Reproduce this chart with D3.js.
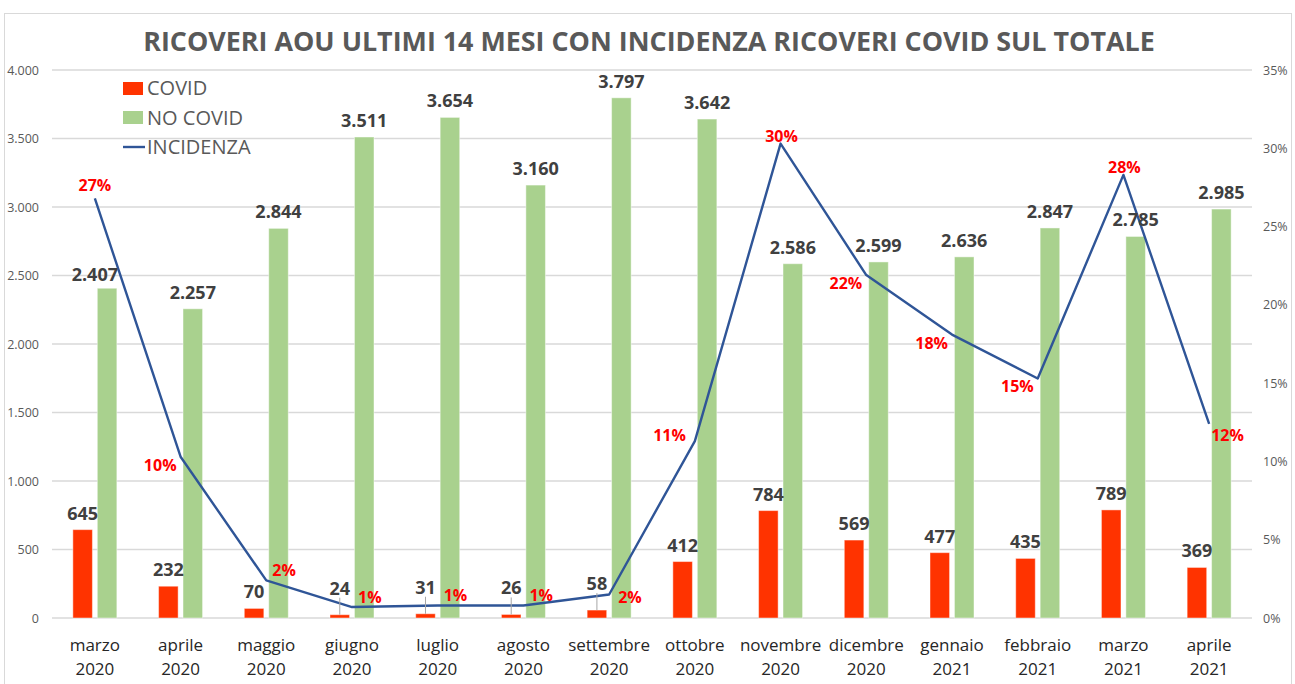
<!DOCTYPE html>
<html><head><meta charset="utf-8">
<script src="https://cdn.jsdelivr.net/npm/d3@7"></script>
<style>
body{margin:0;background:#fff;}
svg{display:block;font-family:"Open Sans",sans-serif;}
</style>
</head><body>
<svg id="chart" width="1295" height="684"></svg>
<script>
// ---------- DATA ----------
const months = ["marzo","aprile","maggio","giugno","luglio","agosto","settembre","ottobre","novembre","dicembre","gennaio","febbraio","marzo","aprile"];
const years  = ["2020","2020","2020","2020","2020","2020","2020","2020","2020","2020","2021","2021","2021","2021"];
const covid    = [645,232,70,24,31,26,58,412,784,569,477,435,789,369];
const noCovid  = [2407,2257,2844,3511,3654,3160,3797,3642,2586,2599,2636,2847,2785,2985];
const incidenza = [0.268,0.103,0.024,0.007,0.008,0.008,0.015,0.113,0.303,0.219,0.181,0.153,0.283,0.124];
const leftTicks  = [0,500,1000,1500,2000,2500,3000,3500,4000];
const rightTicks = [0,0.05,0.10,0.15,0.20,0.25,0.30,0.35];
const seriesNames = ["COVID","NO COVID","INCIDENZA"];
const titleText = "RICOVERI AOU ULTIMI 14 MESI CON INCIDENZA RICOVERI COVID SUL TOTALE";
// label placement keywords for the percentage labels
const pctPlacement = ["top","left","right","right","right","right","rightMid","leftUp","topClose","left","left","left","topClose","rightBelow"];

// ---------- STYLE ----------
const C_RED = "#FF3300", C_GREEN = "#A9D18E", C_LINE = "#2F5597";
const C_GRID = "#D9D9D9", C_AXIS = "#595959", C_LABEL = "#404040";

const svg = d3.select("#chart");
const M = {left:52, right:1252, top:70, bottom:618};

// border
svg.append("rect").attr("x",4.5).attr("y",13.5).attr("width",1287).attr("height",700)
  .attr("fill","none").attr("stroke","#D9D9D9").attr("stroke-width",1);

const idx = d3.range(months.length);
const x = d3.scaleBand().domain(idx).range([M.left, M.right]);
const yL = d3.scaleLinear().domain([0,4000]).range([M.bottom, M.top]);
const yR = d3.scaleLinear().domain([0,0.35]).range([M.bottom, M.top]);
const cx = i => x(i) + x.bandwidth()/2;
const inner = d3.scaleBand().domain(["covid","nocovid"]).range([-22,22]).paddingInner(0.2);

const loc = d3.formatLocale({decimal:",", thousands:".", grouping:[3], currency:["","€"]});
const fmtN = loc.format(",");
const fmtP = d3.format(".0%");

// gridlines
svg.append("g").selectAll("line").data(leftTicks).join("line")
  .attr("x1",M.left).attr("x2",M.right)
  .attr("y1",d=>yL(d)).attr("y2",d=>yL(d))
  .attr("stroke",C_GRID).attr("stroke-width",1.3);

// axes
const axL = svg.append("g").attr("transform",`translate(${M.left},0)`)
  .call(d3.axisLeft(yL).tickValues(leftTicks).tickSize(0).tickPadding(13).tickFormat(fmtN));
const axR = svg.append("g").attr("transform",`translate(${M.right},0)`)
  .call(d3.axisRight(yR).tickValues(rightTicks).tickSize(0).tickPadding(11).tickFormat(fmtP));
[axL,axR].forEach(a=>{
  a.select(".domain").remove();
  a.selectAll("text").attr("fill",C_AXIS).style("font-size","12.5px").style("font-family","'Open Sans',sans-serif");
});

// x labels
const xl = svg.append("g").selectAll("text").data(idx).join("text")
  .attr("x",cx).attr("text-anchor","middle").attr("fill","#262626")
  .style("font-size","17px");
xl.append("tspan").attr("x",cx).attr("y",651).text(i=>months[i]);
xl.append("tspan").attr("x",cx).attr("y",675).text(i=>years[i]);

// bars
svg.append("g").selectAll("rect").data(idx).join("rect")
  .attr("x",i=>cx(i)+inner("covid")).attr("width",inner.bandwidth())
  .attr("y",i=>yL(covid[i])).attr("height",i=>yL(0)-yL(covid[i]))
  .attr("fill",C_RED).attr("stroke","#fff").attr("stroke-opacity",0.45).attr("stroke-width",1);
svg.append("g").selectAll("rect").data(idx).join("rect")
  .attr("x",i=>cx(i)+inner("nocovid")).attr("width",inner.bandwidth())
  .attr("y",i=>yL(noCovid[i])).attr("height",i=>yL(0)-yL(noCovid[i]))
  .attr("fill",C_GREEN).attr("stroke","#fff").attr("stroke-opacity",0.45).attr("stroke-width",1);

// line
svg.append("path").datum(idx)
  .attr("d",d3.line().x(i=>cx(i)).y(i=>yR(incidenza[i])))
  .attr("fill","none").attr("stroke",C_LINE).attr("stroke-width",2.4).attr("stroke-linejoin","round");

// NO COVID labels
svg.append("g").selectAll("text").data(idx).join("text")
  .attr("x",i=> i===0 ? cx(i) : cx(i)+inner("nocovid")+inner.bandwidth()/2)
  .attr("y",i=>yL(noCovid[i]) - (i===0 ? 7 : 10))
  .attr("text-anchor","middle").attr("fill",C_LABEL)
  .style("font-size","18px").style("font-weight","700")
  .text(i=>fmtN(noCovid[i]));

// COVID labels (small ones lifted with leader line)
const gC = svg.append("g");
idx.forEach(i=>{
  const bx = cx(i)+inner("covid")+inner.bandwidth()/2;
  const top = yL(covid[i]);
  const lifted = covid[i] < 65;
  const ty = lifted ? top - 20 : top - 10;
  gC.append("text").attr("x",bx).attr("y",ty).attr("text-anchor","middle")
    .attr("fill",C_LABEL).style("font-size","18px").style("font-weight","700")
    .text(fmtN(covid[i]));
  if(lifted){
    gC.append("line").attr("x1",bx).attr("x2",bx).attr("y1",ty+3).attr("y2",top)
      .attr("stroke","#A6A6A6").attr("stroke-width",1);
  }
});

// percent labels
svg.append("g").selectAll("text").data(idx).join("text")
  .each(function(i){
    const px = cx(i), py = yR(incidenza[i]);
    const p = pctPlacement[i];
    const t = d3.select(this);
    if(p==="top"){ t.attr("x",px).attr("y",py-7).attr("text-anchor","middle"); }
    else if(p==="topClose"){ t.attr("x",px+1).attr("y",py-2).attr("text-anchor","middle"); }
    else if(p==="left"){ t.attr("x",px-4).attr("y",py+14).attr("text-anchor","end"); }
    else if(p==="leftUp"){ t.attr("x",px-9).attr("y",py).attr("text-anchor","end"); }
    else if(p==="right"){ t.attr("x",px+6).attr("y",py-4).attr("text-anchor","start"); }
    else if(p==="rightMid"){ t.attr("x",px+9).attr("y",py+8).attr("text-anchor","start"); }
    else { t.attr("x",px+2).attr("y",py+17).attr("text-anchor","start"); }
  })
  .attr("fill","#FF0000").style("font-size","16px").style("font-weight","700")
  .text(i=>fmtP(incidenza[i]));

// legend
const lg = svg.append("g");
lg.append("rect").attr("x",123).attr("y",82).attr("width",20).attr("height",13).attr("fill",C_RED);
lg.append("rect").attr("x",123).attr("y",111).attr("width",20).attr("height",13).attr("fill",C_GREEN);
lg.append("line").attr("x1",123).attr("x2",145).attr("y1",147).attr("y2",147).attr("stroke",C_LINE).attr("stroke-width",2.4);
seriesNames.forEach((n,k)=>{
  lg.append("text").attr("x",147).attr("y",95+k*29.5).attr("fill",C_AXIS).style("font-size","20px").text(n);
});

// title
const tt = svg.append("text").attr("x",649).attr("y",51).attr("text-anchor","middle")
  .attr("fill",C_AXIS).style("font-size","24px").style("font-weight","700").text(titleText);
const w = tt.node().getComputedTextLength();
tt.style("font-size", (24*1012/w).toFixed(2)+"px");
</script>
</body></html>
